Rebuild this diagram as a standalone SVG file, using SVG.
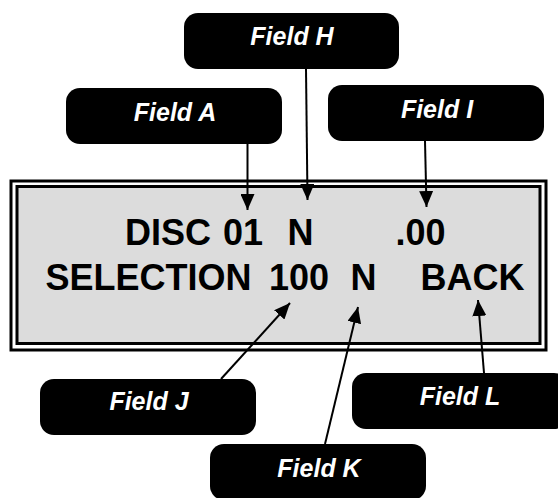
<svg xmlns="http://www.w3.org/2000/svg" width="558" height="498" viewBox="0 0 558 498">
<style>
.box{fill:#000}
.lbl{fill:#fff;font-family:"Liberation Sans",Arial,sans-serif;font-weight:bold;font-style:italic;font-size:25px;text-anchor:middle}
.disp{fill:#000;font-family:"Liberation Sans",Arial,sans-serif;font-weight:bold;font-size:36px}
.con{stroke:#000;stroke-width:2;fill:none;marker-end:url(#ah)}
</style>
<defs>
<marker id="ah" markerWidth="16" markerHeight="14" refX="16" refY="7" orient="auto" markerUnits="userSpaceOnUse" viewBox="0 0 16 14">
<path d="M0,0 L16,7 L0,14 Z" fill="#000"/>
</marker>
</defs>
<rect width="558" height="498" fill="#fff"/>
<g id="display">
<rect x="11" y="181" width="535" height="169" fill="#fff" stroke="#000" stroke-width="3"/>
<rect x="17" y="186.5" width="523" height="157" fill="#dcdcdc" stroke="#000" stroke-width="3"/>
<text class="disp" x="125" y="245">DISC</text>
<text class="disp" x="223" y="245">01</text>
<text class="disp" x="287.5" y="245">N</text>
<text class="disp" x="395.5" y="245">.00</text>
<text class="disp" x="45.5" y="290">SELECTION</text>
<text class="disp" x="269" y="290">100</text>
<text class="disp" x="350.5" y="290">N</text>
<text class="disp" x="420.5" y="290">BACK</text>
</g>
<g id="fieldH"><rect class="box" x="184" y="13" width="215" height="56" rx="14"/><text class="lbl" x="292" y="45">Field H</text></g>
<g id="fieldA"><rect class="box" x="66" y="88" width="216" height="56" rx="14"/><text class="lbl" x="175" y="121">Field A</text></g>
<g id="fieldI"><rect class="box" x="328" y="85" width="216" height="56" rx="14"/><text class="lbl" x="437" y="118">Field I</text></g>
<g id="fieldJ"><rect class="box" x="40" y="379" width="216" height="56" rx="14"/><text class="lbl" x="149" y="410">Field J</text></g>
<g id="fieldK"><rect class="box" x="210" y="444" width="216" height="56" rx="14"/><text class="lbl" x="319" y="477">Field K</text></g>
<g id="fieldL"><rect class="box" x="352" y="373" width="216" height="56" rx="14"/><text class="lbl" x="460" y="405">Field L</text></g>
<g id="connectors">
<path class="con" d="M247.5,144 L247.5,210"/>
<path class="con" d="M306,69 L307.5,200"/>
<path class="con" d="M425,141 L426.5,207"/>
<path class="con" d="M221,379 L290,303"/>
<path class="con" d="M325,444 L358,307"/>
<path class="con" d="M484,373 L478,300"/>
</g>
</svg>
